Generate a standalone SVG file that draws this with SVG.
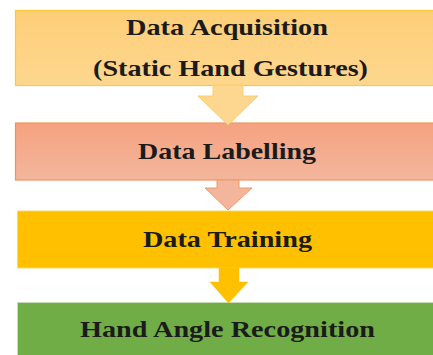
<svg xmlns="http://www.w3.org/2000/svg" width="433" height="355" viewBox="0 0 433 355">
<defs>
<linearGradient id="g1" x1="0" y1="0" x2="0" y2="1"><stop offset="0" stop-color="#FDCE78"/><stop offset="1" stop-color="#FDD78F"/></linearGradient>
<linearGradient id="g2" x1="0" y1="0" x2="0" y2="1"><stop offset="0" stop-color="#F5A27F"/><stop offset="1" stop-color="#F3B69C"/></linearGradient>
<style>
.t{font-weight:bold;font-size:22.5px;fill:#1b1b1b;text-anchor:middle}
</style>
</defs>
<rect width="433" height="355" fill="#ffffff"/>
<g font-family="Liberation Serif, Times New Roman, serif">
<g id="n1"><rect x="15.5" y="10.5" width="430" height="75" fill="url(#g1)" stroke="#FFC936" stroke-width="1.2"/>
<text class="t" x="227" y="35" textLength="202" lengthAdjust="spacingAndGlyphs">Data Acquisition</text>
<text class="t" x="230.5" y="76" textLength="275" lengthAdjust="spacingAndGlyphs">(Static Hand Gestures)</text></g>
<g id="n2"><rect x="15.5" y="123" width="430" height="57" fill="url(#g2)" stroke="#EF935C" stroke-width="1.2"/>
<text class="t" x="227" y="159" textLength="178" lengthAdjust="spacingAndGlyphs">Data Labelling</text></g>
<g id="n3"><rect x="17.5" y="211" width="430" height="57" fill="#FFC000" stroke="#FFD45A" stroke-width="0.8"/>
<text class="t" x="227.5" y="247" textLength="169" lengthAdjust="spacingAndGlyphs">Data Training</text></g>
<g id="n4"><rect x="17.5" y="302.5" width="430" height="60" fill="#70AD47" stroke="#C9DFB8" stroke-width="0.8"/>
<text class="t" x="227.5" y="337" textLength="295" lengthAdjust="spacingAndGlyphs">Hand Angle Recognition</text></g>
</g>
<g id="connectors">
<polygon points="213,85 243,85 243,96 258,96 228,125 198,96 213,96" fill="#FDD78F" stroke="#FDCC6A" stroke-width="1"/>
<polygon points="217,180 239,180 239,188 252,188 228,210 205,188 217,188" fill="#F3B69C" stroke="#EE9A6A" stroke-width="1"/>
<polygon points="219,268 239,268 239,282 248,282 228.5,303 210,282 219,282" fill="#FFC000" stroke="#FFC000" stroke-width="0.5"/>
</g>
</svg>
